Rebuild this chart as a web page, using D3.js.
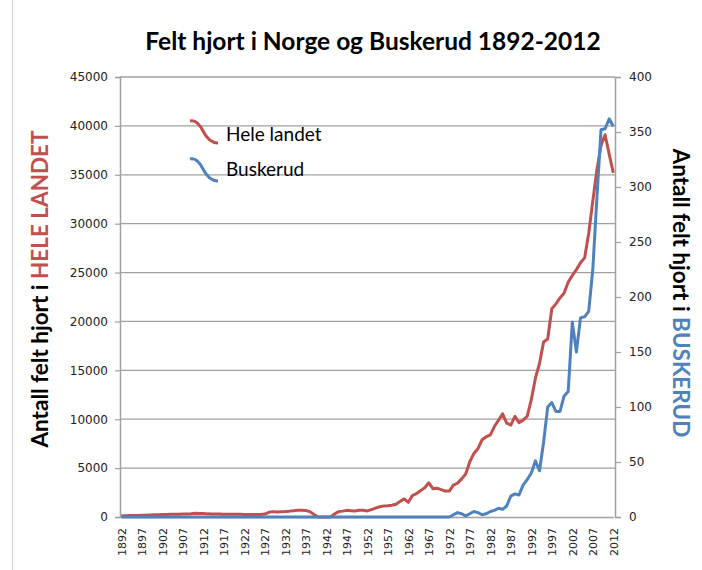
<!DOCTYPE html>
<html lang="no">
<head>
<meta charset="UTF-8">
<title>Felt hjort i Norge og Buskerud 1892-2012</title>
<style>
  body { margin: 0; background: #fff; }
  svg { display: block; font-family: Lato, "Open Sans", sans-serif; }
  .tick text { font-family: "DejaVu Sans", Verdana, sans-serif; fill: #222; }
</style>
<script src="https://d3js.org/d3.v7.min.js"></script>
</head>
<body>
<div id="chart"></div>
<script>
// categories: every year 1892-2012
var years = d3.range(1892, 2013);

// felt hjort, hele landet (left axis)
var heleLandet = [
  130, 120, 150, 150, 160, 170, 180, 200, 220, 240,          // 1892-1901
  250, 260, 270, 280, 290, 300, 310, 330, 380, 350,          // 1902-1911
  370, 320, 300, 300, 300, 290, 290, 280, 280, 270,          // 1912-1921
  260, 250, 250, 250, 260, 300, 480, 550, 520, 540,          // 1922-1931
  560, 600, 650, 690, 680, 660, 550, 250, 0, 0,              // 1932-1941
  0, 0, 300, 550, 600, 680, 650, 620, 680, 690,              // 1942-1951
  620, 750, 900, 1050, 1120, 1150, 1200, 1300, 1600, 1850,   // 1952-1961
  1500, 2200, 2400, 2700, 3000, 3500, 2900, 2950, 2800, 2650, // 1962-1971
  2650, 3250, 3450, 3900, 4400, 5650, 6500, 7000, 7900, 8200, // 1972-1981
  8400, 9250, 9900, 10550, 9600, 9400, 10300, 9650, 9900, 10300, // 1982-1991
  12000, 14200, 15700, 17900, 18200, 21300, 21800, 22400, 22900, 24000, // 1992-2001
  24700, 25300, 26000, 26500, 29000, 32300, 35500, 38000, 39100, 37100, // 2002-2011
  35200                                                       // 2012
];

// felt hjort, Buskerud (right axis)
var buskerud = [
  0, 0, 0, 0, 0, 0, 0, 0, 0, 0,          // 1892-1901
  0, 0, 0, 0, 0, 0, 0, 0, 0, 0,          // 1902-1911
  0, 0, 0, 0, 0, 0, 0, 0, 0, 0,          // 1912-1921
  0, 0, 0, 0, 0, 0, 0, 0, 0, 0,          // 1922-1931
  0, 0, 0, 0, 0, 0, 0, 0, 0, 0,          // 1932-1941
  0, 0, 0, 0, 0, 0, 0, 0, 0, 0,          // 1942-1951
  0, 0, 0, 0, 0, 0, 0, 0, 0, 0,          // 1952-1961
  0, 0, 0, 0, 0, 0, 0, 0, 0, 0,          // 1962-1971
  0, 2, 4, 3, 1, 3, 5, 4, 2, 3,          // 1972-1981
  5, 6, 8, 7, 10, 19, 21, 20, 29, 34,    // 1982-1991
  40, 51, 42, 68, 100, 104, 96, 96, 110, 114, // 1992-2001
  177, 150, 181, 182, 187, 225, 290, 352, 353, 362, // 2002-2011
  355                                    // 2012
];

var leftTicks = [0, 5000, 10000, 15000, 20000, 25000, 30000, 35000, 40000, 45000];
var rightTicks = [0, 50, 100, 150, 200, 250, 300, 350, 400];
var yearLabels = d3.range(1892, 2013, 5);

var red = "#c0504d", blue = "#4f81bd", axisGrey = "#a0a0a0";

var svg = d3.select("#chart").append("svg")
    .attr("width", 702)
    .attr("height", 570);

// chart frame edge on the left
svg.append("line")
    .attr("x1", 12.5).attr("x2", 12.5)
    .attr("y1", 0).attr("y2", 570)
    .attr("stroke", "#d4d4d4");

var plot = {left: 120, right: 615, top: 77, bottom: 517};

var x = d3.scalePoint()
    .domain(years)
    .range([121.3, 613.3]);

var yL = d3.scaleLinear().domain([0, 45000]).range([plot.bottom, plot.top]);
var yR = d3.scaleLinear().domain([0, 400]).range([plot.bottom, plot.top]);

// horizontal gridlines
svg.append("g").selectAll("line")
    .data(leftTicks.filter(function(d) { return d > 0; }))
    .enter().append("line")
    .attr("x1", plot.left).attr("x2", plot.right)
    .attr("y1", function(d) { return yL(d); })
    .attr("y2", function(d) { return yL(d); })
    .attr("stroke", axisGrey)
    .attr("stroke-width", 1.3);

// left axis
var gl = svg.append("g")
    .attr("transform", "translate(" + plot.left + ",0)")
    .call(d3.axisLeft(yL).tickValues(leftTicks).tickFormat(d3.format("d")).tickSize(5).tickPadding(7));

// right axis
var gr = svg.append("g")
    .attr("transform", "translate(" + plot.right + ",0)")
    .call(d3.axisRight(yR).tickValues(rightTicks).tickSize(6).tickPadding(8));

// bottom axis
var gb = svg.append("g")
    .attr("transform", "translate(0," + plot.bottom + ")")
    .call(d3.axisBottom(x).tickValues(yearLabels).tickSize(0).tickPadding(0));
gb.selectAll(".tick text")
    .attr("transform", "rotate(-90)")
    .attr("x", -11)
    .attr("y", 0)
    .attr("dy", "0.35em")
    .style("text-anchor", "end")
    .style("font-size", "11px");

[gl, gr, gb].forEach(function(g) {
    g.select(".domain").attr("stroke", axisGrey).attr("stroke-width", 1.5);
    g.selectAll(".tick line").attr("stroke", axisGrey).attr("stroke-width", 1.2);
});
gl.selectAll(".tick text").style("font-size", "12px");
gr.selectAll(".tick text").style("font-size", "12px");

// lines
var lineL = d3.line()
    .x(function(d, i) { return x(years[i]); })
    .y(function(d) { return yL(d); });
var lineR = d3.line()
    .x(function(d, i) { return x(years[i]); })
    .y(function(d) { return yR(d); });

svg.append("path")
    .datum(heleLandet)
    .attr("d", lineL)
    .attr("fill", "none")
    .attr("stroke", red)
    .attr("stroke-width", 3)
    .attr("stroke-linejoin", "round");

svg.append("path")
    .datum(buskerud)
    .attr("d", lineR)
    .attr("fill", "none")
    .attr("stroke", blue)
    .attr("stroke-width", 3)
    .attr("stroke-linejoin", "round");

// title
svg.append("text")
    .attr("x", 373)
    .attr("y", 50)
    .attr("text-anchor", "middle")
    .style("font-size", "24.5px")
    .style("font-weight", "bold")
    .text("Felt hjort i Norge og Buskerud 1892-2012");

// axis titles
var tl = svg.append("text")
    .attr("transform", "translate(48,289) rotate(-90)")
    .attr("text-anchor", "middle")
    .style("font-size", "22.5px")
    .style("font-weight", "bold");
tl.append("tspan").text("Antall felt hjort i ");
tl.append("tspan").attr("fill", red).text("HELE LANDET");

var tr = svg.append("text")
    .attr("transform", "translate(673,293) rotate(90)")
    .attr("text-anchor", "middle")
    .style("font-size", "22.5px")
    .style("font-weight", "bold");
tr.append("tspan").text("Antall felt hjort i ");
tr.append("tspan").attr("fill", blue).text("BUSKERUD");

// legend
var legend = [
    {name: "Hele landet", color: red, lineY: 121, textY: 141},
    {name: "Buskerud", color: blue, lineY: 159, textY: 176}
];
var lg = svg.append("g").selectAll("g").data(legend).enter().append("g");
lg.append("path")
    .attr("transform", function(d) { return "translate(190," + d.lineY + ")"; })
    .attr("d", "M0,0 C6,-2 10,4 13,10 S20,22 28,22")
    .attr("fill", "none")
    .attr("stroke", function(d) { return d.color; })
    .attr("stroke-width", 3);
lg.append("text")
    .attr("x", 226)
    .attr("y", function(d) { return d.textY; })
    .style("font-size", "19px")
    .text(function(d) { return d.name; });
</script>
</body>
</html>
